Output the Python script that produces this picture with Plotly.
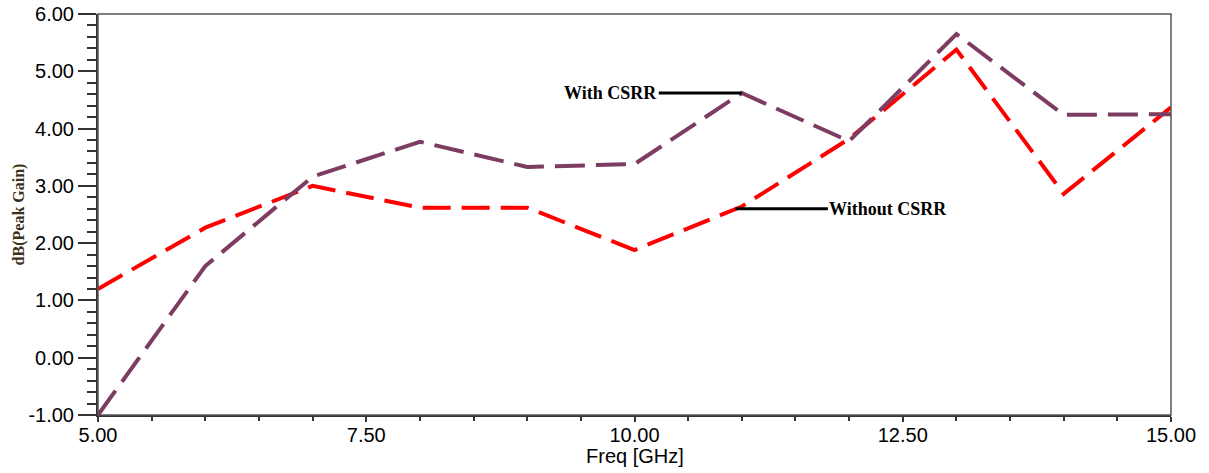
import plotly.graph_objects as go

freq = [5, 6, 7, 8, 9, 10, 11, 12, 13, 14, 15]
with_csrr = [-1.0, 1.6, 3.16, 3.77, 3.33, 3.38, 4.62, 3.78, 5.65, 4.24, 4.25]
without_csrr = [1.2, 2.27, 3.0, 2.62, 2.62, 1.88, 2.64, 3.82, 5.38, 2.86, 4.37]
x_ticks = [5.0, 7.5, 10.0, 12.5, 15.0]
y_ticks = [-1, 0, 1, 2, 3, 4, 5, 6]

fig = go.Figure()
fig.add_trace(go.Scatter(x=freq, y=without_csrr, mode="lines", name="Without CSRR",
                         line=dict(color="#FF0000", width=4, dash="28px,11px")))
fig.add_trace(go.Scatter(x=freq, y=with_csrr, mode="lines", name="With CSRR",
                         line=dict(color="#7D3C62", width=4, dash="30px,11px")))

fig.add_annotation(x=11, y=with_csrr[6], text="<b>With CSRR</b>", showarrow=True,
                   arrowhead=0, arrowwidth=3, arrowcolor="black", ax=-131, ay=0,
                   font=dict(family="Liberation Serif", size=18, color="black"))
fig.add_annotation(x=10.94, y=2.60, text="<b>Without CSRR</b>", showarrow=True,
                   arrowhead=0, arrowwidth=3, arrowcolor="black", ax=153, ay=0,
                   font=dict(family="Liberation Serif", size=18, color="black"))
fig.add_annotation(x=0.5, y=0, xref="paper", yref="paper", text="Freq [GHz]",
                   showarrow=False, yanchor="top", yshift=-28,
                   font=dict(family="Liberation Sans", size=20, color="black"))

fig.add_shape(type="rect", xref="paper", yref="paper", x0=0, y0=0, x1=1, y1=1,
              line=dict(color="#555555", width=1.5), layer="above")

fig.update_layout(
    width=1209, height=473,
    margin=dict(l=98, r=38, t=14, b=58, autoexpand=False),
    paper_bgcolor="white", plot_bgcolor="white",
    showlegend=False,
    font=dict(family="Liberation Sans", size=20, color="black"),
)
fig.update_xaxes(
    range=[5, 15], tickvals=x_ticks, ticktext=[f"{v:.2f}" for v in x_ticks],
    ticks="outside", ticklen=5, tickwidth=1.5, tickcolor="#333",
    minor=dict(dtick=0.5, ticks="outside", ticklen=4, tickwidth=1.5, tickcolor="#333"),
    showline=True, linewidth=2, linecolor="#333", showgrid=False, zeroline=False,
    automargin=False, ticklabelstandoff=-4,
    tickfont=dict(size=20),
)
fig.update_yaxes(
    range=[-1, 6], tickvals=y_ticks, ticktext=[f"{v:.2f}" for v in y_ticks],
    ticks="outside", ticklen=18, tickwidth=1.5, tickcolor="#333",
    minor=dict(dtick=0.2, ticks="outside", ticklen=9, tickwidth=1.5, tickcolor="#333"),
    showline=True, linewidth=2, linecolor="#333", showgrid=False, zeroline=False,
    automargin=False, ticklabelstandoff=0,
    title=dict(text="<b>dB(Peak Gain)</b>",
               font=dict(family="Liberation Serif", size=16, color="#3e3018"), standoff=0),
    tickfont=dict(size=20),
)

fig.write_html("out.html", config={"displayModeBar": False},
               post_script="document.body.style.margin='0';")
